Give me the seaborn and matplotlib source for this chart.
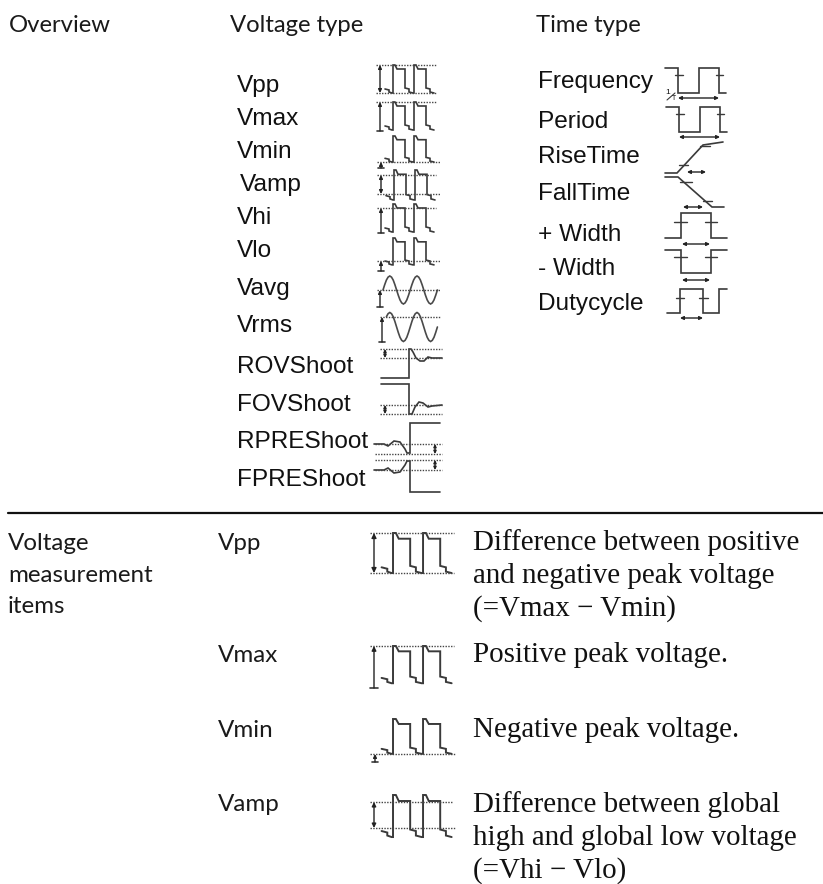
import matplotlib
matplotlib.use("Agg")
from matplotlib import pyplot as plt
import seaborn as sns

# text
headers = ["Overview", "Voltage type", "Time type"]
voltage_types = ["Vpp", "Vmax", "Vmin", "Vamp", "Vhi", "Vlo", "Vavg", "Vrms",
                 "ROVShoot", "FOVShoot", "RPREShoot", "FPREShoot"]
time_types = ["Frequency", "Period", "RiseTime", "FallTime", "+ Width", "- Width", "Dutycycle"]
section_title = ["Voltage", "measurement", "items"]
items = ["Vpp", "Vmax", "Vmin", "Vamp"]
descriptions = [
    ["Difference between positive", "and negative peak voltage", "(=Vmax \u2212 Vmin)"],
    ["Positive peak voltage."],
    ["Negative peak voltage."],
    ["Difference between global", "high and global low voltage", "(=Vhi \u2212 Vlo)"],
]

# waveform traces
pulse_x = [9, 13, 13, 16, 17, 17, 19, 21, 29, 29, 33, 33, 37, 38, 38, 40, 42, 50, 50, 54, 54, 58]
pulse_y = [24, 25, 27, 28, 28, 0, 0, 4, 4, 23, 24, 27, 28, 28, 0, 0, 4, 4, 23, 24, 27, 28]
sine_x = [0, 1.7, 3.4, 5.1, 6.8, 8.5, 10.2, 11.9, 13.6, 15.3, 17, 18.7, 20.4, 22.1, 23.8, 25.5,
          27.2, 28.9, 30.6, 32.3, 34, 35.7, 37.4, 39.1, 40.8, 42.5, 44.2, 45.9, 47.6, 49.3, 51, 52.7, 54.4]
sine_y = [0, .38, .71, .92, 1, .92, .71, .38, 0, -.38, -.71, -.92, -1, -.92, -.71, -.38,
          0, .38, .71, .92, 1, .92, .71, .38, 0, -.38, -.71, -.92, -1, -.92, -.71, -.38, 0]
rov_x = [381, 409, 409, 411, 413, 416, 420, 424, 428, 432, 442]
rov_y = [378, 378, 349, 349, 352, 358, 361, 361, 357, 358, 358]
fov_x = [381, 409, 409, 412, 415, 419, 423, 428, 432, 442]
fov_y = [384, 384, 414, 414, 407, 402, 403, 407, 406, 405]
rpre_x = [374, 384, 388, 394, 400, 405, 407, 410, 410, 440]
rpre_y = [444, 444, 446, 441, 442, 449, 453, 453, 423, 423]
fpre_x = [374, 384, 388, 394, 400, 405, 407, 410, 410, 440]
fpre_y = [470, 470, 468, 473, 472, 465, 461, 461, 492, 492]
freq_x = [665, 678, 678, 699, 699, 719, 719, 726]
freq_y = [68, 68, 93, 93, 68, 68, 93, 93]
rise_x = [665, 677, 703, 723]
rise_y = [173, 173, 145, 142]
fall_x = [665, 678, 712, 724]
fall_y = [177, 177, 207, 207]
pwidth_x = [665, 681, 681, 711, 711, 727]
pwidth_y = [238, 238, 213, 213, 238, 238]
nwidth_y = [250, 250, 273, 273, 250, 250]
duty_x = [667, 680, 680, 703, 703, 719, 719, 727]
duty_y = [313, 313, 289, 289, 313, 313, 289, 289]

SANS = "Lato"
ARIAL = "Liberation Sans"
SERIF = "Liberation Serif"
INK = "#3a3a3a"
DOT = "#444444"

sns.set_theme(style="white")
fig = plt.figure(figsize=(8.23, 8.84), dpi=100)
ax = fig.add_axes([0, 0, 1, 1])


def trace(xs, ys, lw=1.2, color=INK):
    sns.lineplot(x=xs, y=ys, ax=ax, estimator=None, sort=False, color=color,
                 linewidth=lw, legend=False, solid_joinstyle="miter")


def dotted(x0, x1, y, lw=1.0):
    ax.plot([x0, x1], [y, y], color=DOT, lw=lw, linestyle=(0, (1, 1)))


def arrow(x0, y0, x1, y1, style="<|-|>", size=5):
    ax.annotate("", xy=(x1, y1), xytext=(x0, y0),
                arrowprops=dict(arrowstyle=style, color="#222222", lw=1.0,
                                mutation_scale=size, shrinkA=0, shrinkB=0))


def based_arrow(x, top, bottom, scale=1.0):
    # up arrow standing on a short bar
    arrow(x, bottom, x, top, style="-|>", size=5 * scale)
    ax.plot([x - 3 * scale, x + 3 * scale], [bottom, bottom], color=INK, lw=1.2)


def pulse(x0, y0, scale=1.0, stretch=1.0, lw=1.2):
    xs = [x0 + v * scale for v in pulse_x]
    ys = [y0 + v * scale * stretch for v in pulse_y]
    trace(xs, ys, lw=lw)


def ticks(y, spans):
    for a, b in spans:
        ax.plot([a, b], [y, y], color=INK, lw=1.0)


# overview text
for label, x in zip(headers, [9, 230, 536]):
    ax.text(x, 32, label, family=SANS, fontsize=17.2, va="baseline", color="#1a1a1a")

volt_y = [92, 125, 158, 191, 224, 257, 295, 332, 373, 411, 448, 486]
volt_x = [237, 237, 237, 240, 237, 237, 237, 237, 237, 237, 237, 237]
for label, x, y in zip(voltage_types, volt_x, volt_y):
    ax.text(x, y, label, family=ARIAL, fontsize=17.6, va="baseline", color="#111111")

time_y = [88, 128, 163, 200, 241, 275, 310]
for label, y in zip(time_types, time_y):
    ax.text(538, y, label, family=ARIAL, fontsize=17.6, va="baseline", color="#111111")

# small voltage icons
pulse(376, 65)
dotted(376, 436, 65)
dotted(376, 436, 93)
arrow(380, 65, 380, 93)

pulse(376, 102)
dotted(376, 436, 102)
based_arrow(380, 102, 131)

pulse(376, 136, stretch=0.93)
dotted(377, 440, 162)
based_arrow(381, 162, 168)

pulse(377, 170, stretch=1.07)
dotted(377, 436, 175)
dotted(377, 440, 194)
arrow(381, 175, 381, 194)

pulse(376, 204)
dotted(377, 436, 208)
based_arrow(381, 208, 233)

pulse(376, 238, stretch=0.96)
dotted(377, 440, 261)
based_arrow(381, 261, 271)

trace([383 + v for v in sine_x], [290 - 14 * v for v in sine_y], color="#4a4a4a")
dotted(377, 440, 290)
based_arrow(380, 290, 307)

trace([383 + v for v in sine_x[2:]], [327 - 14.5 * v for v in sine_y[2:]], color="#4a4a4a")
dotted(380, 440, 317)
based_arrow(382, 317, 342)

trace(rov_x, rov_y)
dotted(380, 442, 349)
dotted(380, 442, 358)
arrow(385, 349, 385, 358, size=4)

trace(fov_x, fov_y)
dotted(380, 442, 405)
dotted(380, 442, 414)
arrow(385, 405, 385, 414, size=4)

trace(rpre_x, rpre_y)
dotted(375, 442, 444)
dotted(375, 442, 454)
arrow(435, 444, 435, 454, size=4)

trace(fpre_x, fpre_y)
dotted(375, 442, 460)
dotted(375, 442, 470)
arrow(435, 460, 435, 470, size=4)

# time icons
trace(freq_x, freq_y)
ticks(75, [(675, 683), (716, 723)])
arrow(678, 98, 719, 98)
ax.text(668, 92, "1", family=ARIAL, fontsize=6, ha="center", va="center", color="#111111")
ax.text(674, 99, "T", family=ARIAL, fontsize=5, ha="center", va="center", color="#111111")
ax.plot([667, 675], [100, 93], color=INK, lw=0.8)

trace([v + 1 for v in freq_x], [v + 39 for v in freq_y])
ticks(114, [(676, 684), (717, 724)])
arrow(679, 137, 720, 137)

trace(rise_x, rise_y)
ticks(165, [(679, 688)])
ticks(146, [(700, 710)])
arrow(687, 172, 706, 172)

trace(fall_x, fall_y)
ticks(182, [(680, 692)])
ticks(201, [(703, 712)])
arrow(683, 207, 703, 207)

trace(pwidth_x, pwidth_y)
ticks(222, [(674, 687), (705, 717)])
arrow(682, 244, 710, 244)

trace(pwidth_x, nwidth_y)
ticks(257, [(674, 687), (705, 717)])
arrow(682, 280, 710, 280)

trace(duty_x, duty_y)
ticks(298, [(676, 684), (699, 708)])
arrow(680, 318, 703, 318)

# divider
ax.plot([8, 823], [513, 513], color="#111111", lw=1.6)

# lower section
for label, y in zip(section_title, [550, 582, 613]):
    ax.text(8, y, label, family=SANS, fontsize=17.4, va="baseline", color="#1a1a1a")

item_y = [550, 662, 737, 811]
for label, y in zip(items, item_y):
    ax.text(218, y, label, family=SANS, fontsize=17.4, va="baseline", color="#1a1a1a")

desc_y = [550, 662, 737, 812]
for lines, y in zip(descriptions, desc_y):
    for i, line in enumerate(lines):
        ax.text(473.5, y + i * 33, line, family=SERIF, fontsize=20.9, va="baseline", color="#111111")

LARGE = 1.43
BIG_X = 368.7
pulse(BIG_X, 533, scale=LARGE, lw=1.4)
dotted(370, 454, 533)
dotted(370, 454, 573)
arrow(374, 533, 374, 573, size=7)

pulse(BIG_X, 646, scale=LARGE, stretch=0.93, lw=1.4)
dotted(370, 454, 646)
based_arrow(374, 646, 688, scale=1.3)

pulse(BIG_X, 719, scale=LARGE, stretch=0.87, lw=1.4)
dotted(370, 455, 754)
based_arrow(375, 754, 762, scale=1.0)

pulse(BIG_X, 795, scale=LARGE, stretch=1.05, lw=1.4)
dotted(370, 453, 802)
dotted(370, 455, 828)
arrow(374, 802, 374, 828, size=6)

ax.set_xlim(0, 823)
ax.set_ylim(884, 0)
ax.axis("off")

fig.savefig("out.png", dpi=100)
